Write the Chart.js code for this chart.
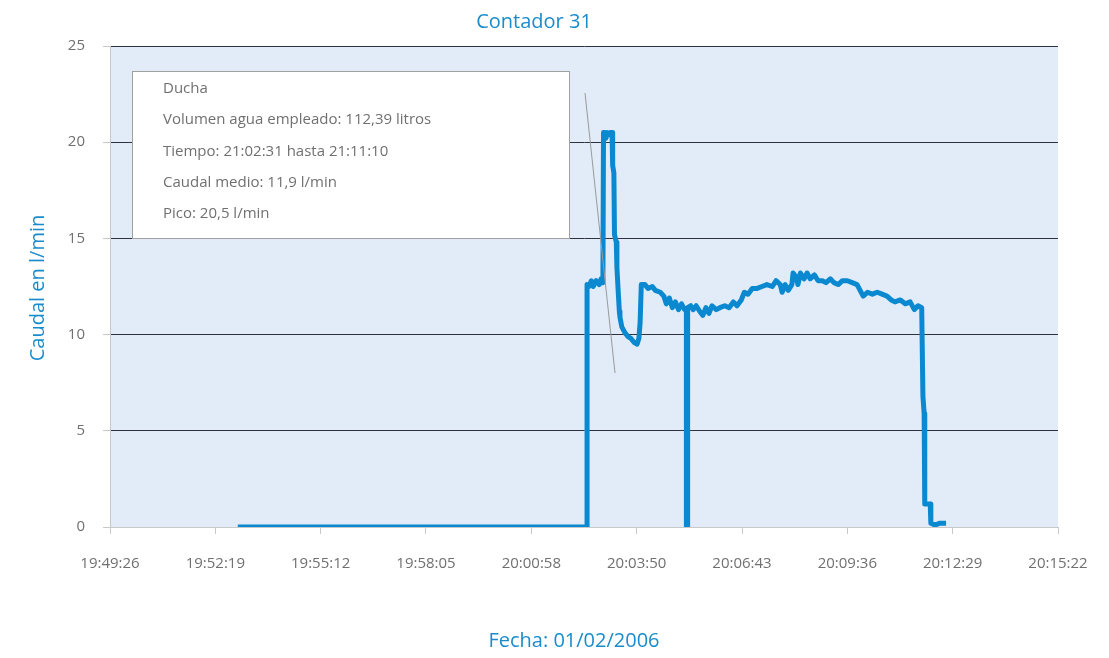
<!DOCTYPE html>
<html>
<head>
<meta charset="utf-8">
<script src="https://cdn.jsdelivr.net/npm/chart.js@4.4.1/dist/chart.umd.min.js"></script>
<style>
  html,body{margin:0;padding:0;background:#fff;}
  #wrap{width:1109px;height:658px;}
</style>
</head>
<body>
<div id="wrap"><canvas id="c" width="1109" height="658"></canvas></div>
<script>
// ---- data ----
const tiempos = [
 '19:52:56','20:02:29','20:02:29','20:02:32','20:02:36','20:02:39','20:02:44','20:02:49','20:02:52','20:02:55',
 '20:02:56','20:02:58','20:03:00','20:03:02','20:03:05','20:03:07','20:03:10','20:03:11','20:03:13','20:03:14',
 '20:03:17','20:03:18','20:03:20','20:03:22','20:03:23','20:03:26','20:03:31','20:03:36','20:03:41','20:03:46',
 '20:03:51','20:03:54','20:03:56','20:03:58','20:04:04','20:04:09','20:04:16','20:04:21','20:04:29','20:04:35',
 '20:04:39','20:04:44','20:04:49','20:04:54','20:04:59','20:05:04','20:05:09','20:05:12','20:05:12','20:05:14',
 '20:05:14','20:05:19','20:05:23','20:05:28','20:05:34','20:05:39','20:05:44','20:05:49','20:05:54','20:06:01',
 '20:06:07','20:06:15','20:06:22','20:06:29','20:06:35','20:06:42','20:06:47','20:06:53','20:07:00','20:07:08',
 '20:07:16','20:07:24','20:07:33','20:07:39','20:07:46','20:07:49','20:07:54','20:07:59','20:08:05','20:08:07',
 '20:08:12','20:08:15','20:08:19','20:08:25','20:08:30','20:08:35','20:08:42','20:08:48','20:08:55','20:09:01',
 '20:09:08','20:09:14','20:09:21','20:09:28','20:09:36','20:09:44','20:09:52','20:09:57','20:10:02','20:10:09',
 '20:10:17','20:10:25','20:10:33','20:10:41','20:10:48','20:10:54','20:11:03','20:11:11','20:11:19','20:11:26',
 '20:11:32','20:11:38','20:11:40','20:11:42','20:11:43','20:11:52','20:11:53','20:12:00','20:12:08','20:12:18'
];
const caudal = [
 0,0,12.6,12.5,12.8,12.5,12.8,12.6,12.9,12.7,
 20.5,20.5,20.2,20.5,20.4,20.5,20.5,18.8,18.4,15.2,
 14.8,13.5,12.3,11.2,10.9,10.4,10.1,9.9,9.8,9.6,
 9.5,9.8,10.6,12.6,12.6,12.4,12.5,12.3,12.2,12.0,
 11.6,11.9,11.4,11.7,11.3,11.6,11.3,11.3,0,0,
 11.4,11.5,11.3,11.5,11.2,11.0,11.4,11.1,11.5,11.3,
 11.4,11.5,11.4,11.7,11.5,11.8,12.2,12.1,12.4,12.4,
 12.5,12.6,12.5,12.8,12.6,12.2,12.6,12.3,12.6,13.2,
 13.0,12.6,13.2,12.9,13.2,12.9,13.1,12.8,12.8,12.7,
 12.9,12.7,12.6,12.8,12.8,12.7,12.6,12.3,12.0,12.2,
 12.1,12.2,12.1,12.0,11.8,11.7,11.8,11.6,11.7,11.3,
 11.5,11.4,6.8,5.9,1.2,1.2,0.2,0.1,0.2,0.2
];
const etiquetasX = ['19:49:26','19:52:19','19:55:12','19:58:05','20:00:58','20:03:50','20:06:43','20:09:36','20:12:29','20:15:22'];
const ticksY = [0,5,10,15,20,25];
const titulo = 'Contador 31';
const tituloY = 'Caudal en l/min';
const tituloX = 'Fecha: 01/02/2006';
const notas = ['Ducha','Volumen agua empleado: 112,39 litros','Tiempo: 21:02:31 hasta 21:11:10','Caudal medio: 11,9 l/min','Pico: 20,5 l/min'];

// ---- helpers ----
function aSeg(s){const p=s.split(':').map(Number);return p[0]*3600+p[1]*60+p[2];}
const xMin = aSeg(etiquetasX[0]) + 0.4;   // axis starts at 19:49:26.4
const paso = 172.8;                          // 0.002 day
const xMax = xMin + paso*(etiquetasX.length-1);
const puntos = tiempos.map((t,i)=>({x:aSeg(t), y:caudal[i]}));

const AZUL = '#0a88d0';
const FONT = "'Open Sans', 'Noto Sans', sans-serif";

const fondo = {
  id:'fondo',
  beforeDraw(chart){
    const {ctx, chartArea:a} = chart;
    ctx.save();
    ctx.fillStyle = '#e1ecf8';
    ctx.fillRect(a.left, a.top, a.right-a.left, a.bottom-a.top);
    ctx.restore();
  }
};

const textos = {
  id:'textos',
  afterDraw(chart){
    const {ctx, chartArea:a} = chart;
    ctx.save();
    // annotation box
    const bx = a.left + 22, by = a.top + 25, bw = 437, bh = 167;
    ctx.fillStyle = '#ffffff';
    ctx.fillRect(bx, by, bw, bh);
    ctx.strokeStyle = '#a0a0a0';
    ctx.lineWidth = 1;
    ctx.strokeRect(bx+0.5, by+0.5, bw, bh);
    ctx.fillStyle = '#707070';
    ctx.font = "15px " + FONT;
    ctx.textAlign = 'left';
    ctx.textBaseline = 'middle';
    notas.forEach((n,i)=>ctx.fillText(n, bx+31, by+18+i*31.2));
    // pointer line
    ctx.strokeStyle = '#9a9a9a';
    ctx.lineWidth = 1;
    ctx.beginPath();
    ctx.moveTo(a.left+475, a.top+47);
    ctx.lineTo(a.left+505, a.top+327);
    ctx.stroke();
    // titles
    ctx.fillStyle = '#1a8ccc';
    ctx.font = "20px " + FONT;
    ctx.textAlign = 'center';
    ctx.fillText(titulo, 534, 22);
    ctx.fillText(tituloX, 574, 641);
    ctx.translate(38, 288);
    ctx.rotate(-Math.PI/2);
    ctx.fillText(tituloY, 0, 0);
    ctx.restore();
  }
};

new Chart(document.getElementById('c'), {
  type:'line',
  data:{datasets:[{
    data:puntos,
    borderColor:AZUL,
    borderWidth:5,
    pointRadius:0,
    tension:0,
    fill:false,
    borderJoinStyle:'round',
    borderCapStyle:'butt'
  }]},
  options:{
    responsive:false,
    animation:false,
    layout:{padding:{left:0,right:51,top:46,bottom:0}},
    plugins:{legend:{display:false}, title:{display:false}, tooltip:{enabled:false}},
    scales:{
      x:{
        type:'linear',
        min:xMin, max:xMax,
        afterBuildTicks(s){ s.ticks = etiquetasX.map((l,i)=>({value:xMin+i*paso})); },
        afterFit(s){ s.height = 131; },
        ticks:{
          autoSkip:false, maxRotation:0,
          callback:(v,i)=>etiquetasX[i],
          color:'#707070', font:{family:FONT, size:15}, padding:21
        },
        grid:{drawOnChartArea:false, drawTicks:true, tickLength:7, tickColor:'#c8c8c8'},
        border:{color:'#c8c8c8'}
      },
      y:{
        min:0, max:25,
        afterBuildTicks(s){ s.ticks = ticksY.map(v=>({value:v})); },
        afterFit(s){ s.width = 110; },
        ticks:{color:'#707070', font:{family:FONT, size:15}, padding:18},
        grid:{
          color:(c)=> (c.tick && c.tick.value===0) ? '#c8c8c8' : '#2f3340',
          lineWidth:1, drawTicks:true, tickLength:7, tickColor:'#c8c8c8'
        },
        border:{color:'#c8c8c8'}
      }
    }
  },
  plugins:[fondo, textos]
});
</script>
</body>
</html>
